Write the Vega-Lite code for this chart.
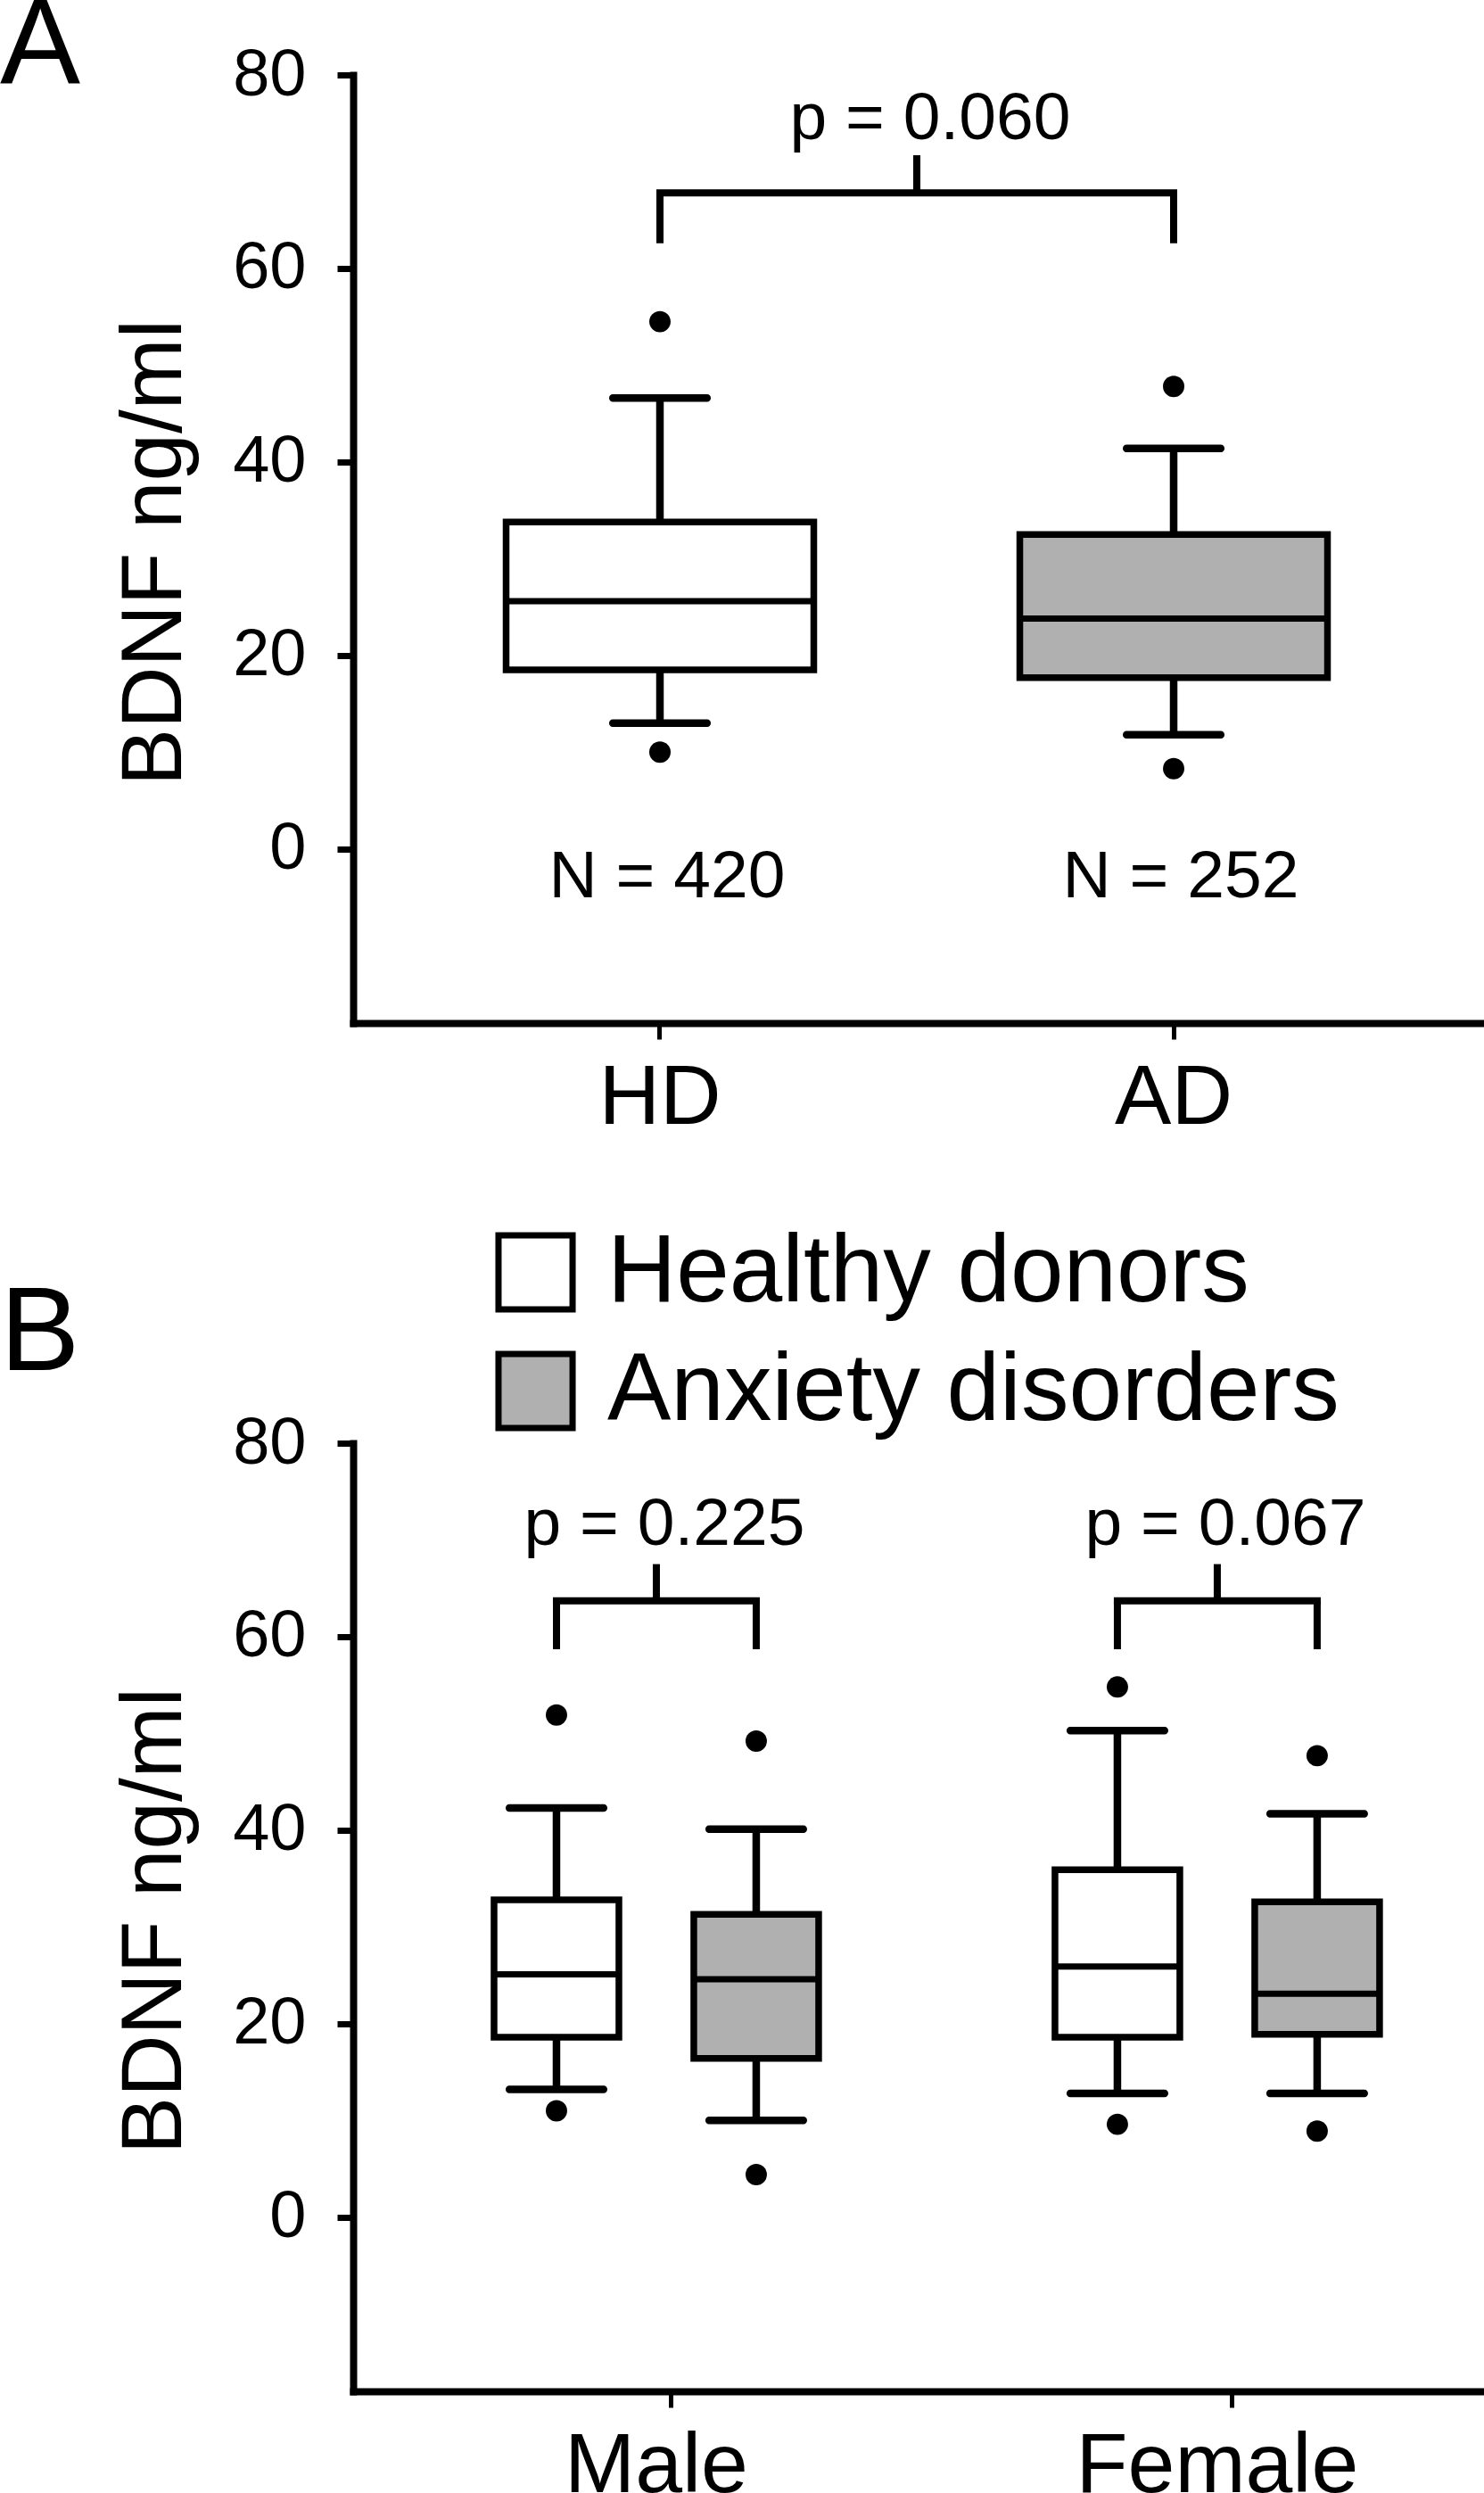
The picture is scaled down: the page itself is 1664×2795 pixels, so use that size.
{
  "$schema": "https://vega.github.io/schema/vega-lite/v6.json",
  "background": "white",
  "padding": {"left": 0, "top": -15, "right": 0, "bottom": 0},
  "config": {
    "font": "Liberation Sans",
    "view": {"stroke": null},
    "axis": {"grid": false, "domainColor": "black", "tickColor": "black", "labelColor": "black", "titleColor": "black", "domainWidth": 8, "domainCap": "square", "labelFont": "Liberation Sans", "titleFont": "Liberation Sans", "titleFontWeight": "normal"},
    "axisX": {"tickSize": 18, "tickWidth": 5, "labelFontSize": 95, "labelPadding": 19, "labelAngle": 0, "labelLimit": 1000},
    "axisY": {"tickSize": 18, "tickWidth": 7, "labelFontSize": 74, "labelPadding": 35, "tickCount": 5, "titleFontSize": 96, "titleX": -194, "titleY": 535, "titleBaseline": "alphabetic", "titleAngle": 270},
    "title": {"font": "Liberation Sans", "fontWeight": "normal", "color": "black", "anchor": "start", "frame": "group", "offset": 0, "baseline": "alphabetic"},
    "text": {"font": "Liberation Sans", "color": "black"}
  },
  "datasets": {
    "boxA": [
      {"group": "HD", "lower": 13.0, "q1": 18.5, "median": 25.6, "q3": 33.8, "upper": 46.6},
      {"group": "AD", "lower": 11.8, "q1": 17.7, "median": 23.8, "q3": 32.5, "upper": 41.4}
    ],
    "outA": [
      {"group": "HD", "value": 54.5}, {"group": "HD", "value": 10.0},
      {"group": "AD", "value": 47.8}, {"group": "AD", "value": 8.3}
    ],
    "nA": [
      {"group": "HD", "label": "N = 420"}, {"group": "AD", "label": "N = 252"}
    ],
    "bracketA": [
      {"from": "HD", "to": "AD", "legLow": 62.6, "bar": 67.8, "stemTop": 71.7, "labelY": 73.4, "label": "p = 0.060"}
    ],
    "boxB": [
      {"sex": "Male", "group": "Healthy donors", "lower": 13.2, "q1": 18.6, "median": 25.1, "q3": 32.8, "upper": 42.3},
      {"sex": "Male", "group": "Anxiety disorders", "lower": 10.0, "q1": 16.4, "median": 24.6, "q3": 31.3, "upper": 40.1},
      {"sex": "Female", "group": "Healthy donors", "lower": 12.8, "q1": 18.6, "median": 25.9, "q3": 35.9, "upper": 50.3},
      {"sex": "Female", "group": "Anxiety disorders", "lower": 12.8, "q1": 18.9, "median": 23.1, "q3": 32.6, "upper": 41.7}
    ],
    "outB": [
      {"sex": "Male", "group": "Healthy donors", "value": 51.9}, {"sex": "Male", "group": "Healthy donors", "value": 11.0},
      {"sex": "Male", "group": "Anxiety disorders", "value": 49.2}, {"sex": "Male", "group": "Anxiety disorders", "value": 4.4},
      {"sex": "Female", "group": "Healthy donors", "value": 54.8}, {"sex": "Female", "group": "Healthy donors", "value": 9.6},
      {"sex": "Female", "group": "Anxiety disorders", "value": 47.7}, {"sex": "Female", "group": "Anxiety disorders", "value": 8.9}
    ],
    "bracketB": [
      {"sex": "Male", "legLow": 58.7, "bar": 63.7, "stemTop": 67.5, "labelY": 69.5, "label": "p = 0.225"},
      {"sex": "Female", "legLow": 58.7, "bar": 63.7, "stemTop": 67.5, "labelY": 69.5, "label": "p = 0.067"}
    ]
  },
  "spacing": 95,
  "resolve": {"scale": {"x": "independent", "y": "independent", "fill": "independent"}},
  "vconcat": [
    {
      "width": 1264,
      "height": 1063,
      "title": {"text": "A", "fontSize": 135, "dx": -396, "dy": 78},
      "layer": [
        {
          "data": {"name": "boxA"},
          "mark": {"type": "rule", "color": "black", "strokeWidth": 8.5},
          "encoding": {
            "x": {"field": "group", "type": "nominal", "title": null, "scale": {"type": "band", "domain": ["HD", "AD"], "paddingInner": 0, "paddingOuter": 0.0972}},
            "y": {"field": "q3", "type": "quantitative", "title": "BDNF ng/ml", "scale": {"domain": [-18, 80], "nice": false, "zero": false}},
            "y2": {"field": "upper"}
          }
        },
        {
          "data": {"name": "boxA"},
          "mark": {"type": "rule", "color": "black", "strokeWidth": 8.5},
          "encoding": {
            "x": {"field": "group", "type": "nominal", "title": null},
            "y": {"field": "lower", "type": "quantitative", "title": "BDNF ng/ml"},
            "y2": {"field": "q1"}
          }
        },
        {
          "data": {"name": "boxA"},
          "mark": {"type": "tick", "color": "black", "size": 114, "thickness": 8.5, "cornerRadius": 4, "opacity": 1},
          "encoding": {
            "x": {"field": "group", "type": "nominal", "title": null},
            "y": {"field": "upper", "type": "quantitative", "title": "BDNF ng/ml"}
          }
        },
        {
          "data": {"name": "boxA"},
          "mark": {"type": "tick", "color": "black", "size": 114, "thickness": 8.5, "cornerRadius": 4, "opacity": 1},
          "encoding": {
            "x": {"field": "group", "type": "nominal", "title": null},
            "y": {"field": "lower", "type": "quantitative", "title": "BDNF ng/ml"}
          }
        },
        {
          "data": {"name": "boxA"},
          "mark": {"type": "bar", "size": 345, "stroke": "black", "strokeWidth": 7.5, "opacity": 1},
          "encoding": {
            "x": {"field": "group", "type": "nominal", "title": null},
            "y": {"field": "q1", "type": "quantitative", "title": "BDNF ng/ml"},
            "y2": {"field": "q3"},
            "fill": {"field": "group", "type": "nominal", "scale": {"domain": ["HD", "AD"], "range": ["#ffffff", "#b0b0b0"]}, "legend": null}
          }
        },
        {
          "data": {"name": "boxA"},
          "mark": {"type": "tick", "color": "black", "size": 345, "thickness": 7, "opacity": 1},
          "encoding": {
            "x": {"field": "group", "type": "nominal", "title": null},
            "y": {"field": "median", "type": "quantitative", "title": "BDNF ng/ml"}
          }
        },
        {
          "data": {"name": "outA"},
          "mark": {"type": "point", "filled": true, "color": "black", "size": 573, "opacity": 1},
          "encoding": {
            "x": {"field": "group", "type": "nominal", "title": null},
            "y": {"field": "value", "type": "quantitative", "title": "BDNF ng/ml"}
          }
        },
        {
          "data": {"name": "nA"},
          "mark": {"type": "text", "fontSize": 75, "baseline": "alphabetic", "align": "center", "dx": 8},
          "encoding": {
            "x": {"field": "group", "type": "nominal", "title": null},
            "y": {"datum": -5, "type": "quantitative", "title": "BDNF ng/ml"},
            "text": {"field": "label"}
          }
        },
        {
          "data": {"name": "boxA"},
          "mark": {"type": "rule", "color": "black", "strokeWidth": 8},
          "encoding": {
            "x": {"field": "group", "type": "nominal", "title": null},
            "y": {"datum": 62.6, "type": "quantitative", "title": "BDNF ng/ml"},
            "y2": {"datum": 67.8}
          }
        },
        {
          "data": {"name": "bracketA"},
          "mark": {"type": "rule", "color": "black", "strokeWidth": 8, "strokeCap": "square"},
          "encoding": {
            "x": {"field": "from", "type": "nominal", "title": null, "bandPosition": 0.5},
            "x2": {"field": "to", "bandPosition": 0.5},
            "y": {"field": "bar", "type": "quantitative", "title": "BDNF ng/ml"}
          }
        },
        {
          "data": {"name": "bracketA"},
          "mark": {"type": "rule", "color": "black", "strokeWidth": 8},
          "encoding": {
            "x": {"field": "from", "type": "nominal", "title": null, "bandPosition": 1},
            "y": {"field": "bar", "type": "quantitative", "title": "BDNF ng/ml"},
            "y2": {"field": "stemTop"}
          }
        },
        {
          "data": {"name": "bracketA"},
          "mark": {"type": "text", "fontSize": 75, "baseline": "alphabetic", "align": "center", "dx": 15},
          "encoding": {
            "x": {"field": "from", "type": "nominal", "title": null, "bandPosition": 1},
            "y": {"field": "labelY", "type": "quantitative", "title": "BDNF ng/ml"},
            "text": {"field": "label"}
          }
        }
      ]
    },
    {
      "width": 1268,
      "height": 1063,
      "title": {"text": "B", "fontSize": 134, "dx": -396, "dy": 195},
      "layer": [
        {
          "data": {"name": "boxB"},
          "mark": {"type": "rule", "color": "black", "strokeWidth": 8.5},
          "encoding": {
            "x": {"field": "sex", "type": "nominal", "title": null, "axis": {"bandPosition": 0.537}, "scale": {"type": "band", "domain": ["Male", "Female"], "paddingInner": 0.2878, "paddingOuter": 0.1519, "align": 0.607}},
            "xOffset": {"field": "group", "type": "nominal", "scale": {"domain": ["Healthy donors", "Anxiety disorders"], "paddingInner": 0, "paddingOuter": 0}},
            "y": {"field": "q3", "type": "quantitative", "title": "BDNF ng/ml", "scale": {"domain": [-18, 80], "nice": false, "zero": false}},
            "y2": {"field": "upper"}
          }
        },
        {
          "data": {"name": "boxB"},
          "mark": {"type": "rule", "color": "black", "strokeWidth": 8.5},
          "encoding": {
            "x": {"field": "sex", "type": "nominal", "title": null},
            "xOffset": {"field": "group", "type": "nominal"},
            "y": {"field": "lower", "type": "quantitative", "title": "BDNF ng/ml"},
            "y2": {"field": "q1"}
          }
        },
        {
          "data": {"name": "boxB"},
          "mark": {"type": "tick", "color": "black", "size": 114, "thickness": 8.5, "cornerRadius": 4, "opacity": 1},
          "encoding": {
            "x": {"field": "sex", "type": "nominal", "title": null},
            "xOffset": {"field": "group", "type": "nominal"},
            "y": {"field": "upper", "type": "quantitative", "title": "BDNF ng/ml"}
          }
        },
        {
          "data": {"name": "boxB"},
          "mark": {"type": "tick", "color": "black", "size": 114, "thickness": 8.5, "cornerRadius": 4, "opacity": 1},
          "encoding": {
            "x": {"field": "sex", "type": "nominal", "title": null},
            "xOffset": {"field": "group", "type": "nominal"},
            "y": {"field": "lower", "type": "quantitative", "title": "BDNF ng/ml"}
          }
        },
        {
          "data": {"name": "boxB"},
          "mark": {"type": "bar", "size": 140, "stroke": "black", "strokeWidth": 7.5, "opacity": 1},
          "encoding": {
            "x": {"field": "sex", "type": "nominal", "title": null},
            "xOffset": {"field": "group", "type": "nominal"},
            "y": {"field": "q1", "type": "quantitative", "title": "BDNF ng/ml"},
            "y2": {"field": "q3"},
            "fill": {
              "field": "group", "type": "nominal",
              "scale": {"domain": ["Healthy donors", "Anxiety disorders"], "range": ["#ffffff", "#b0b0b0"]},
              "legend": {
                "orient": "none", "legendX": 151, "legendY": -245, "title": null, "padding": 0,
                "symbolType": "square", "symbolSize": 6900, "symbolStrokeWidth": 7, "symbolStrokeColor": "black", "symbolOpacity": 1,
                "labelFontSize": 107, "labelFont": "Liberation Sans", "labelColor": "black", "labelOffset": 27, "rowPadding": 20, "labelLimit": 2000
              }
            }
          }
        },
        {
          "data": {"name": "boxB"},
          "mark": {"type": "tick", "color": "black", "size": 140, "thickness": 7, "opacity": 1},
          "encoding": {
            "x": {"field": "sex", "type": "nominal", "title": null},
            "xOffset": {"field": "group", "type": "nominal"},
            "y": {"field": "median", "type": "quantitative", "title": "BDNF ng/ml"}
          }
        },
        {
          "data": {"name": "outB"},
          "mark": {"type": "point", "filled": true, "color": "black", "size": 573, "opacity": 1},
          "encoding": {
            "x": {"field": "sex", "type": "nominal", "title": null},
            "xOffset": {"field": "group", "type": "nominal"},
            "y": {"field": "value", "type": "quantitative", "title": "BDNF ng/ml"}
          }
        },
        {
          "data": {"name": "boxB"},
          "mark": {"type": "rule", "color": "black", "strokeWidth": 8},
          "encoding": {
            "x": {"field": "sex", "type": "nominal", "title": null},
            "xOffset": {"field": "group", "type": "nominal"},
            "y": {"datum": 58.7, "type": "quantitative", "title": "BDNF ng/ml"},
            "y2": {"datum": 63.7}
          }
        },
        {
          "data": {"name": "bracketB"},
          "mark": {"type": "tick", "color": "black", "size": 232, "thickness": 8, "opacity": 1},
          "encoding": {
            "x": {"field": "sex", "type": "nominal", "title": null},
            "y": {"field": "bar", "type": "quantitative", "title": "BDNF ng/ml"}
          }
        },
        {
          "data": {"name": "bracketB"},
          "mark": {"type": "rule", "color": "black", "strokeWidth": 8},
          "encoding": {
            "x": {"field": "sex", "type": "nominal", "title": null},
            "y": {"field": "bar", "type": "quantitative", "title": "BDNF ng/ml"},
            "y2": {"field": "stemTop"}
          }
        },
        {
          "data": {"name": "bracketB"},
          "mark": {"type": "text", "fontSize": 75, "baseline": "alphabetic", "align": "center", "dx": 9},
          "encoding": {
            "x": {"field": "sex", "type": "nominal", "title": null},
            "y": {"field": "labelY", "type": "quantitative", "title": "BDNF ng/ml"},
            "text": {"field": "label"}
          }
        }
      ]
    }
  ]
}
